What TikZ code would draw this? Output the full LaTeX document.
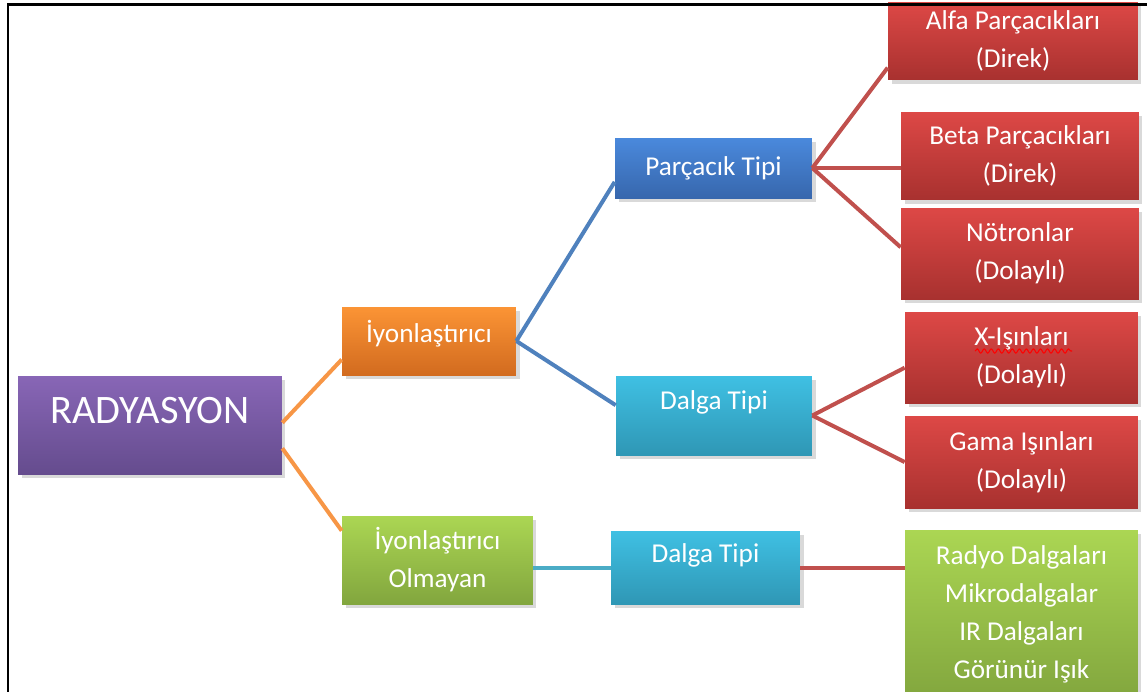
\documentclass[tikz,border=0pt]{standalone}
\usepackage{fontspec}
\setmainfont{Carlito}
\usetikzlibrary{shadows, decorations.pathmorphing}

\definecolor{radtop}{HTML}{8866B6}
\definecolor{radbot}{HTML}{654C8E}
\definecolor{ortop}{HTML}{FB9435}
\definecolor{orbot}{HTML}{D26B1F}
\definecolor{bltop}{HTML}{4A89DC}
\definecolor{blbot}{HTML}{3767AD}
\definecolor{cytop}{HTML}{3FC0E3}
\definecolor{cybot}{HTML}{2F97B5}
\definecolor{rdtop}{HTML}{DD4846}
\definecolor{rdbot}{HTML}{A8312F}
\definecolor{grtop}{HTML}{ABD653}
\definecolor{grbot}{HTML}{82A63E}
\definecolor{orline}{HTML}{F79646}
\definecolor{blline}{HTML}{4F81BD}
\definecolor{cyline}{HTML}{4BACC6}
\definecolor{rdline}{HTML}{C0504D}

\tikzset{
    box/.style={inner sep=2pt, align=center, text=white,
        font=\fontsize{15.5}{21.6}\selectfont,
        drop shadow={shadow xshift=2pt, shadow yshift=-2.5pt, opacity=0.3}},
    lift/.style={text depth=#1},
    radbox/.style={box, top color=radtop, bottom color=radbot},
    orbox/.style={box, top color=ortop, bottom color=orbot},
    blbox/.style={box, top color=bltop, bottom color=blbot},
    cybox/.style={box, top color=cytop, bottom color=cybot},
    rdbox/.style={box, top color=rdtop, bottom color=rdbot},
    grbox/.style={box, top color=grtop, bottom color=grbot},
    link/.style={line width=0.08cm}
}

\begin{document}
\begin{tikzpicture}[x=0.02cm, y=-0.02cm]
    \useasboundingbox (0,0) rectangle (1147,691);

    \node[radbox, minimum width=5.28cm, minimum height=1.96cm, lift=0.6cm, font=\fontsize{23}{27}\selectfont] (rad) at (150,425) {RADYASYON};
    \node[orbox, minimum width=3.48cm, minimum height=1.36cm, lift=0.37cm] (ion) at (429,341) {İyonlaştırıcı};
    \node[grbox, minimum width=3.82cm, minimum height=1.76cm] (ionno) at (437.5,560) {İyonlaştırıcı\\Olmayan};
    \node[blbox, minimum width=3.94cm, minimum height=1.2cm] (par) at (713.5,168) {Parçacık Tipi};
    \node[cybox, minimum width=3.92cm, minimum height=1.58cm, lift=0.61cm] (dal1) at (714,415.5) {Dalga Tipi};
    \node[cybox, minimum width=3.78cm, minimum height=1.46cm, lift=0.57cm] (dal2) at (705.5,567.5) {Dalga Tipi};

    \node[rdbox, minimum width=5.0cm, minimum height=1.56cm] (alfa) at (1013,41) {Alfa Parçacıkları\\(Direk)};
    \node[rdbox, minimum width=4.76cm, minimum height=1.76cm] (beta) at (1020,156) {Beta Parçacıkları\\(Direk)};
    \node[rdbox, minimum width=4.76cm, minimum height=1.82cm] (notr) at (1020,253.5) {Nötronlar\\(Dolaylı)};
    \node[rdbox, minimum width=4.66cm, minimum height=1.82cm] (xray) at (1021.5,357.5) {X-Işınları\\(Dolaylı)};
    \node[rdbox, minimum width=4.66cm, minimum height=1.84cm] (gama) at (1021.5,462) {Gama Işınları\\(Dolaylı)};
    \node[grbox, minimum width=4.66cm, minimum height=3.38cm] (dalgalar) at (1021.5,614.5) {Radyo Dalgaları\\Mikrodalgalar\\IR Dalgaları\\Görünür Işık};

    \draw[link, orline] (rad.1) -- (ion.192);
    \draw[link, orline] (rad.-10) -- (ionno.163);
    \draw[link, blline] (ion.east) -- (par.188);
    \draw[link, blline] (ion.east) -- (dal1.174);
    \draw[link, cyline] (ionno.east |- dal2.west) -- (dal2.west);
    \draw[link, rdline] (par.east) -- (alfa.192);
    \draw[link, rdline] (par.east) -- (par.east -| beta.west);
    \draw[link, rdline] (par.east) -- (notr.177);
    \draw[link, rdline] (dal1.east) -- (xray.185);
    \draw[link, rdline] (dal1.east) -- (gama.west);
    \draw[link, rdline] (dal2.east) -- (dal2.east -| dalgalar.west);

    \draw[red, line width=0.6pt, decorate, decoration={snake, amplitude=1.2pt, segment length=4pt}] (975,351) -- (1072,351);

    \draw[line width=0.06cm] (1150,4) -- (8,4) -- (8,695);
\end{tikzpicture}
\end{document}
